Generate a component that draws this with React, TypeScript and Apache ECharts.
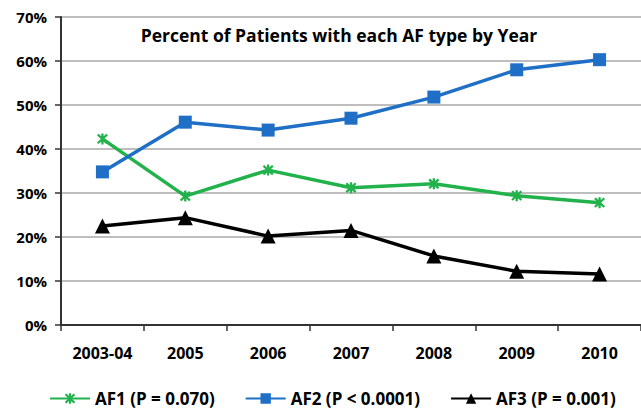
import React, { useEffect, useRef } from "react";
import * as echarts from "echarts";

const categories = ["2003-04", "2005", "2006", "2007", "2008", "2009", "2010"];
const af1 = [42.3, 29.3, 35.2, 31.2, 32.1, 29.4, 27.8];
const af2 = [34.8, 46.1, 44.3, 47.0, 51.8, 58.0, 60.3];
const af3 = [22.5, 24.4, 20.2, 21.5, 15.7, 12.2, 11.6];
const seriesNames = ["AF1 (P = 0.070)", "AF2 (P < 0.0001)", "AF3 (P = 0.001)"];
const titleText = "Percent of Patients with each AF type by Year";

const starPath =
  "path://M-1,-5L1,-5L1,5L-1,5Z M-3.3,-4.7L4.7,3.3L3.3,4.7L-4.7,-3.3Z M4.7,-3.3L-3.3,4.7L-4.7,3.3L3.3,-4.7Z";

export default function App() {
  const ref = useRef<HTMLDivElement>(null);
  useEffect(() => {
    if (!ref.current) return;
    const chart = echarts.init(ref.current, null, { renderer: "svg" });
    const font = "Open Sans";
    chart.setOption({
      animation: false,
      backgroundColor: "#ffffff",
      textStyle: { fontFamily: font },
      title: {
        text: titleText,
        left: 334,
        top: 21,
        textAlign: "center",
        textStyle: { fontSize: 17.5, fontWeight: "bold", color: "#000", fontFamily: font },
      },
      legend: {
        bottom: 2,
        left: 44,
        itemWidth: 40,
        itemHeight: 13,
        itemGap: 30,
        textStyle: { fontSize: 17, fontWeight: "bold", color: "#000", fontFamily: font },
        data: seriesNames,
      },
      grid: { left: 61, right: -4, top: 17, bottom: 89, containLabel: false },
      xAxis: {
        type: "category",
        data: categories,
        boundaryGap: true,
        axisLine: { lineStyle: { color: "#333", width: 2 } },
        axisTick: { show: true, length: 6, lineStyle: { color: "#333", width: 1.5 } },
        axisLabel: { fontSize: 16, fontWeight: "bold", color: "#000", margin: 20 },
      },
      yAxis: {
        type: "value",
        min: 0,
        max: 70,
        interval: 10,
        axisLine: { show: true, lineStyle: { color: "#333", width: 2 } },
        axisTick: { show: true, length: 6, lineStyle: { color: "#333", width: 1.5 } },
        axisLabel: { fontSize: 15, fontWeight: "bold", color: "#000", formatter: "{value}%", margin: 14 },
        splitLine: { lineStyle: { color: "#a8a8a8", width: 1.5 } },
      },
      series: [
        {
          name: seriesNames[0],
          type: "line",
          data: af1,
          symbol: starPath,
          symbolSize: 11,
          lineStyle: { color: "#22b24c", width: 3.5 },
          itemStyle: { color: "#22b24c" },
        },
        {
          name: seriesNames[1],
          type: "line",
          data: af2,
          symbol: "rect",
          symbolSize: 13,
          lineStyle: { color: "#1f6fc6", width: 3.5 },
          itemStyle: { color: "#1f6fc6" },
        },
        {
          name: seriesNames[2],
          type: "line",
          data: af3,
          symbol: "triangle",
          symbolSize: 15,
          lineStyle: { color: "#000", width: 3.5 },
          itemStyle: { color: "#000" },
        },
      ],
    });
    return () => chart.dispose();
  }, []);
  return (
    <div
      ref={ref}
      style={{ position: "absolute", left: 0, top: 0, width: 641, height: 414 }}
    />
  );
}
